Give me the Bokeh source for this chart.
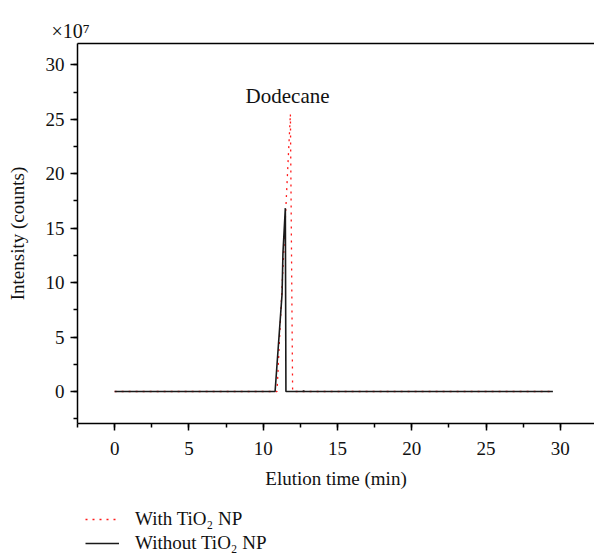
from bokeh.plotting import figure
from bokeh.layouts import column
from bokeh.models import (Range1d, LinearAxis, SingleIntervalTicker,
                          Legend, LegendItem, Label, Title)
from bokeh.embed import file_html
from bokeh.resources import INLINE

# data (intensity in units of 1e7 counts)
time_with = [0, 10.93, 11.83, 11.98, 29.5]
int_with = [0, 0, 25.5, 0, 0]
time_without = [0, 10.8, 11.27, 11.33, 11.49, 11.53, 12.68, 12.72, 12.76, 29.5]
int_without = [0, 0, 8.97, 12.74, 16.84, 0, 0, 0.08, 0, 0]
peak_name = "Dodecane"
peak_time = 11.64
peak_height = 27.1
series_names = ["With TiO\u2082 NP", "Without TiO\u2082 NP"]
scale_text = "\u00d710\u2077"

FONT = "Liberation Serif"
RED = "#ff1a1a"
BLACK = "#1a1a1a"

p = figure(width=594, height=498, output_backend="svg", toolbar_location=None,
           x_range=Range1d(-2.5, 32.3), y_range=Range1d(-2.94, 31.96),
           min_border_left=77, min_border_right=0, min_border_top=43,
           min_border_bottom=75, background_fill_color="white",
           border_fill_color="white", title=None)
p.outline_line_color = None
p.xgrid.visible = False
p.ygrid.visible = False

for ax in (p.xaxis[0], p.yaxis[0]):
    ax.ticker = SingleIntervalTicker(interval=5, num_minor_ticks=2)
    ax.axis_line_width = 1.5
    ax.axis_line_color = "black"
    ax.major_tick_line_width = 1.5
    ax.minor_tick_line_width = 1.5
    ax.major_tick_out = 7
    ax.major_tick_in = 0
    ax.minor_tick_out = 4
    ax.minor_tick_in = 0
    ax.major_label_text_font = FONT
    ax.major_label_text_font_size = "19px"
    ax.major_label_text_color = "#111111"
    ax.axis_label_text_font = FONT
    ax.axis_label_text_font_size = "19px"
    ax.axis_label_text_font_style = "normal"
    ax.axis_label_text_color = "#111111"

p.xaxis.axis_label = "Elution time (min)"
p.xaxis.major_label_standoff = 11
p.xaxis.axis_label_standoff = 10
p.yaxis.axis_label = "Intensity (counts)"
p.yaxis.major_label_standoff = 6
p.yaxis.axis_label_standoff = 15

top_axis = LinearAxis(ticker=SingleIntervalTicker(interval=5, num_minor_ticks=2),
                      major_label_text_alpha=0, major_label_text_font_size="2px",
                      major_label_standoff=0,
                      axis_line_width=1.5, axis_line_color="black",
                      major_tick_out=0, major_tick_in=0,
                      minor_tick_out=0, minor_tick_in=0)
p.add_layout(top_axis, "above")
p.add_layout(Title(text=scale_text, align="left", offset=-26, text_font=FONT,
                   text_font_size="20px", text_font_style="normal",
                   text_color="#111111", standoff=3), "above")

r_with = p.line(time_with, int_with, line_color=RED, line_width=1.3,
                line_dash="2 5")
r_without = p.line(time_without, int_without, line_color=BLACK, line_width=1.6)

p.add_layout(Label(x=peak_time, y=peak_height, text=peak_name,
                   text_font=FONT, text_font_size="21px",
                   text_align="center", text_baseline="alphabetic",
                   text_color="#111111"))

# legend panel below the chart
lf = figure(width=594, height=58, output_backend="svg", toolbar_location=None,
            x_axis_type=None, y_axis_type=None,
            x_range=Range1d(0, 1), y_range=Range1d(100, 101),
            min_border_left=0, min_border_right=0, min_border_top=0,
            min_border_bottom=0, background_fill_color="white",
            border_fill_color="white")
lf.outline_line_color = None
lf.xgrid.visible = False
lf.ygrid.visible = False
l_with = lf.line(time_with, int_with, line_color=RED, line_width=1.3, line_dash="2 5")
l_without = lf.line(time_without, int_without, line_color=BLACK, line_width=1.6)

legend = Legend(items=[LegendItem(label=series_names[0], renderers=[l_with]),
                       LegendItem(label=series_names[1], renderers=[l_without])],
                location=(8, 1), orientation="vertical",
                border_line_color=None, background_fill_alpha=0,
                label_text_font=FONT, label_text_font_size="19px",
                label_text_color="#111111",
                glyph_width=34, glyph_height=24, label_height=24,
                label_standoff=16, spacing=0, padding=0, margin=0)
lf.add_layout(legend, "center")

layout = column(p, lf, spacing=0)
open("out.html", "w").write(file_html(layout, INLINE))
